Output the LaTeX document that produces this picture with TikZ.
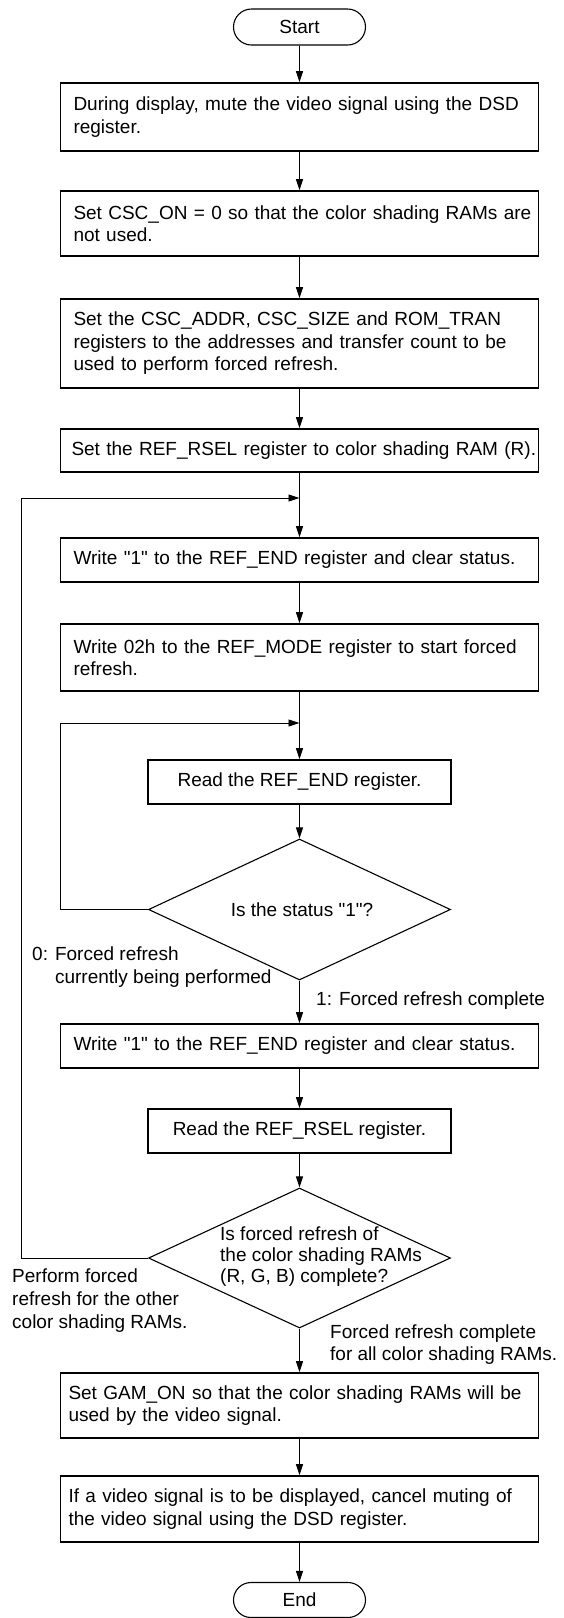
\documentclass[tikz,border=0pt]{standalone}
\usepackage{fontspec}
\setmainfont{Liberation Sans}
\usetikzlibrary{shapes.geometric,shapes.misc,arrows.meta}
\newcommand{\sq}[1]{\textquotedbl#1\textquotedbl}
\begin{document}
\begin{tikzpicture}[x=1pt,y=1pt,
  every node/.style={font=\fontsize{19}{22.5}\selectfont},
  box/.style={draw, line width=1.6pt, minimum width=478pt, text width=452pt, inner xsep=13pt, inner ysep=0pt, align=left},
  boxw/.style={box, text width=462pt, inner xsep=8pt},
  sbox/.style={draw, line width=1.6pt, minimum width=303pt, inner xsep=0pt, inner ysep=0pt, align=center},
  term/.style={draw, rounded rectangle, line width=1.1pt, minimum width=132pt, minimum height=36pt, inner sep=0pt},
  dia/.style={draw, diamond, line width=1.1pt, minimum width=302pt, minimum height=141pt, inner sep=0pt},
  lbl/.style={inner sep=0pt, align=left},
  arr/.style={line width=0.9pt, -{Triangle[length=11pt,width=7pt]}},
  ln/.style={line width=0.9pt}]
\useasboundingbox (0,0) rectangle (563,-1618);

\node[term] (start) at (299.5,-27) {Start};
\node[box, minimum height=68pt] (b1) at (299.5,-117) {\mbox{During display, mute the video signal using the DSD}\\register.};
\node[box, minimum height=65pt] (b2) at (299.5,-223.5) {\mbox{Set CSC\_ON = 0 so that the color shading RAMs are}\\not used.};
\node[box, minimum height=89pt] (b3) at (299.5,-343.5) {\mbox{Set the CSC\_ADDR, CSC\_SIZE and ROM\_TRAN}\\\mbox{registers to the addresses and transfer count to be}\\used to perform forced refresh.};
\node[box, minimum height=43pt, inner xsep=11pt, text width=456pt] (b4) at (299.5,-450.5) {\mbox{Set the REF\_RSEL register to color shading RAM (R).}};
\coordinate (j1) at (299.5,-498);
\node[box, minimum height=44pt] (b5) at (299.5,-560) {\mbox{Write \sq{1} to the REF\_END register and clear status.}};
\node[box, minimum height=67pt] (b6) at (299.5,-657.5) {\mbox{Write 02h to the REF\_MODE register to start forced}\\refresh.};
\coordinate (j2) at (299.5,-723);
\node[sbox, minimum height=44pt] (b7) at (299.5,-782) {Read the REF\_END register.};
\node[dia] (d1) at (299.5,-909.5) {};
\node[inner sep=0pt] (d1t) at (302,-909.5) {Is the status \sq{1}?};
\node[box, minimum height=44pt] (b8) at (299.5,-1046) {\mbox{Write \sq{1} to the REF\_END register and clear status.}};
\node[sbox, minimum height=44pt] (b9) at (299.5,-1131) {Read the REF\_RSEL register.};
\node[dia, minimum height=140pt] (d2) at (299.5,-1258) {};
\node[lbl, anchor=west, font=\fontsize{19}{21}\selectfont] (d2t) at (220,-1257) {Is forced refresh of\\the color shading RAMs\\(R, G, B) complete?};
\node[boxw, minimum height=65pt] (b10) at (299.5,-1405.5) {\mbox{Set GAM\_ON so that the color shading RAMs will be}\\used by the video signal.};
\node[boxw, minimum height=66pt] (b11) at (299.5,-1509) {\mbox{If a video signal is to be displayed, cancel muting of}\\the video signal using the DSD register.};
\node[term, minimum height=35pt] (end) at (299.5,-1600) {End};

\node[lbl, anchor=west] (l0) at (32,-967) {0: Forced refresh\\\phantom{0: }currently being performed};
\node[lbl, anchor=west] (l1) at (316,-1001) {1: Forced refresh complete};
\node[lbl, anchor=west, font=\fontsize{19}{23}\selectfont] (l2) at (12,-1301) {Perform forced\\refresh for the other\\color shading RAMs.};
\node[lbl, anchor=west] (l3) at (330,-1344.5) {Forced refresh complete\\for all color shading RAMs.};

\draw[arr] (start) -- (b1);
\draw[arr] (b1) -- (b2);
\draw[arr] (b2) -- (b3);
\draw[arr] (b3) -- (b4);
\draw[arr] (b4) -- (b5);
\draw[arr] (b5) -- (b6);
\draw[arr] (b6) -- (b7);
\draw[arr] (b7) -- (d1);
\draw[arr] (d1) -- (b8);
\draw[arr] (b8) -- (b9);
\draw[arr] (b9) -- (d2);
\draw[arr] (d2) -- (b10);
\draw[arr] (b10) -- (b11);
\draw[arr] (b11) -- (end);

\coordinate (c2) at (60,-909.5);
\draw[arr] (d1.west) -- (c2) |- (j2);
\coordinate (c1) at (21.5,-1258);
\draw[arr] (d2.west) -- (c1) |- (j1);
\end{tikzpicture}
\end{document}
